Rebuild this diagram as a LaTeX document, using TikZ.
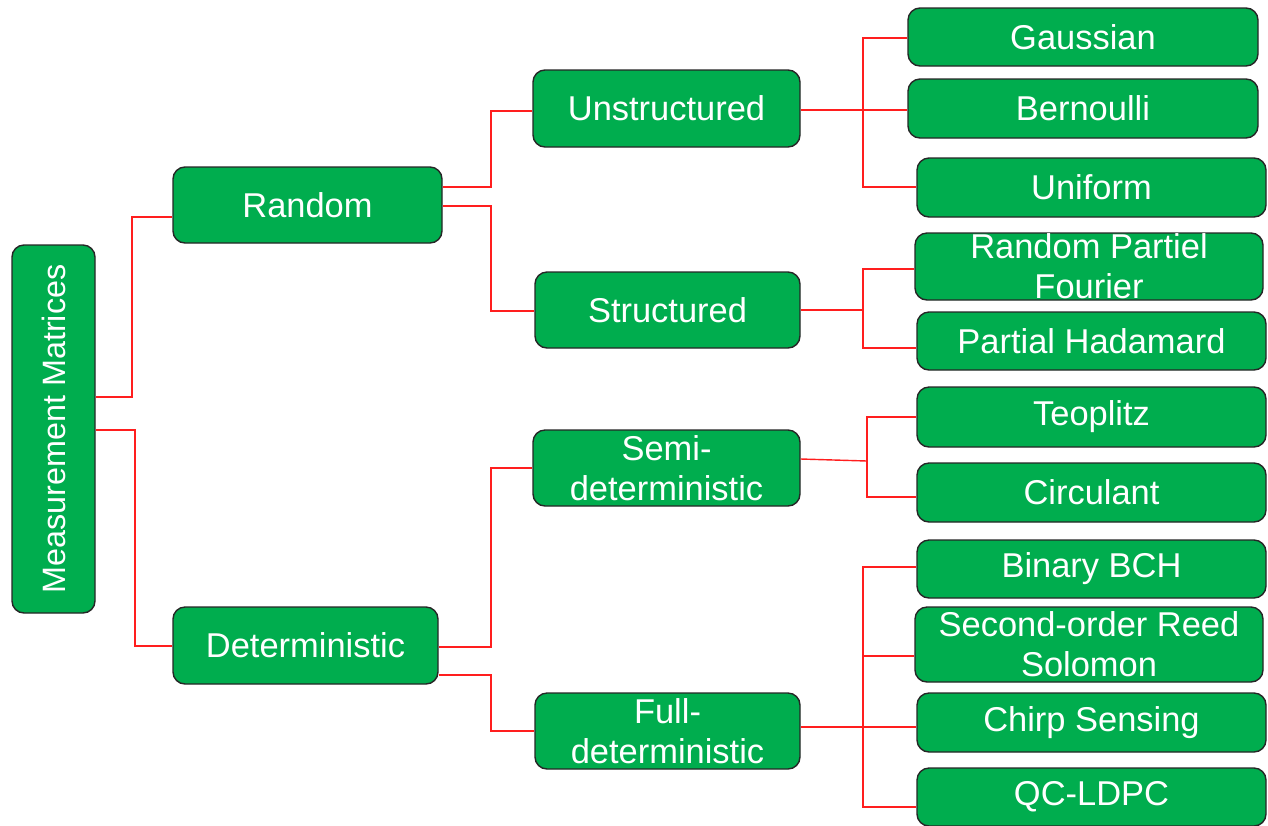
\documentclass[tikz,border=0pt]{standalone}
\usepackage{fontspec}
\usepackage{graphicx}
\setmainfont{Liberation Sans}
\definecolor{boxgreen}{RGB}{0,173,78}
\definecolor{linkred}{RGB}{255,30,30}
\begin{document}
\begin{tikzpicture}[x=0.025cm,y=-0.025cm,
  box/.style={draw=black!85,line width=1pt,fill=boxgreen,rounded corners=0.3cm,
    text=white,inner sep=0pt,align=center,font=\fontsize{24.5}{28.5}\selectfont},
  conn/.style={draw=linkred,line width=1pt}]
\useasboundingbox (0,0) rectangle (1268,825);
\newcommand{\bx}[7]{\node[box,minimum width={#4*0.025cm},minimum height={#5*0.025cm},#7] (#1) at (#2,#3) {#6};}
\bx{MM}{53.5}{429}{83}{368}{\rotatebox{90}{\fontsize{23}{27}\selectfont Measurement Matrices}}{}
\bx{Rand}{307.5}{205}{269}{76}{Random}{}
\bx{Det}{305.5}{645.5}{265}{77}{Deterministic}{}
\bx{Unstr}{666.5}{108.5}{267}{77}{Unstructured}{}
\bx{Str}{667.5}{310}{265}{76}{Structured}{}
\bx{Semi}{666.5}{468}{267}{76}{Semi-\\deterministic}{}
\bx{Full}{667.5}{731}{265}{76}{Full-\\deterministic}{}
\bx{Gau}{1083}{37}{350}{58}{Gaussian}{}
\bx{Ber}{1083}{108.5}{350}{59}{Bernoulli}{}
\bx{Uni}{1091.5}{187.5}{349}{59}{Uniform}{}
\bx{RPF}{1089}{266.5}{348}{67}{Random Partiel\\Fourier}{}
\bx{PH}{1091.5}{341}{349}{58}{Partial Hadamard}{}
\bx{Teo}{1091.5}{417}{349}{60}{Teoplitz}{}
\bx{Cir}{1091.5}{492.5}{349}{59}{Circulant}{}
\bx{BCH}{1091.5}{569}{349}{58}{Binary BCH}{}
\bx{RS}{1089}{644.5}{348}{75}{Second-order Reed\\Solomon}{}
\bx{Chi}{1091.5}{722.5}{349}{59}{Chirp Sensing}{}
\bx{QC}{1091.5}{797}{349}{58}{QC-LDPC}{}
% connectors
\draw[conn] (MM.east |- 0,397) -| (132,217) -- (Rand.west |- 0,217);
\draw[conn] (MM.east |- 0,430) -| (135,646) -- (Det.west |- 0,646);
\draw[conn] (Rand.east |- 0,187) -| (491,111) -- (Unstr.west |- 0,111);
\draw[conn] (Rand.east |- 0,206) -| (491,311) -- (Str.west |- 0,311);
\draw[conn] (Det.east |- 0,647) -| (491,468) -- (Semi.west |- 0,468);
\draw[conn] (Det.east |- 0,675) -| (491,731) -- (Full.west |- 0,731);
\draw[conn] (Unstr.east |- 0,110) -- (Ber.west |- 0,110);
\draw[conn] (Gau.west |- 0,38) -| (863,187) -- (Uni.west |- 0,187);
\draw[conn] (Str.east |- 0,310) -- (863,310);
\draw[conn] (RPF.west |- 0,269) -| (863,348) -- (PH.west |- 0,348);
\draw[conn] (Semi.east |- 0,459) -- (867,461);
\draw[conn] (Teo.west |- 0,417) -| (867,497) -- (Cir.west |- 0,497);
\draw[conn] (Full.east |- 0,727) -- (Chi.west |- 0,727);
\draw[conn] (BCH.west |- 0,567) -| (863,807) -- (QC.west |- 0,807);
\draw[conn] (863,656) -- (RS.west |- 0,656);
\end{tikzpicture}
\end{document}
